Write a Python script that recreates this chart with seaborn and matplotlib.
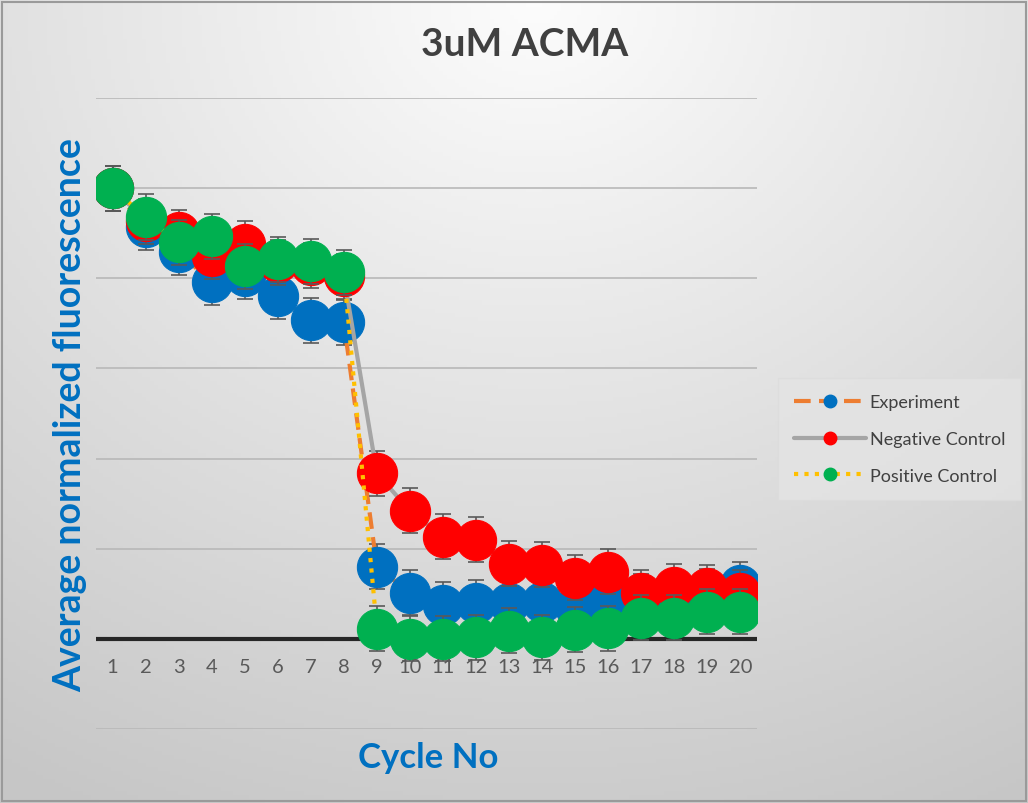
import numpy as np
import pandas as pd
import matplotlib.pyplot as plt
import seaborn as sns
from matplotlib.lines import Line2D
from matplotlib.patches import Rectangle

sns.set_style("white")
plt.rcParams['font.family'] = ['Lato', 'DejaVu Sans']

# --- data ---
cycles = list(range(1, 21))
experiment = [1.000, 0.913, 0.858, 0.791, 0.804, 0.760, 0.707, 0.702, 0.160, 0.102,
              0.076, 0.080, 0.080, 0.082, 0.071, 0.093, 0.095, 0.100, 0.105, 0.120]
negative = [1.000, 0.927, 0.902, 0.849, 0.876, 0.836, 0.829, 0.804, 0.367, 0.284,
            0.227, 0.220, 0.167, 0.164, 0.136, 0.149, 0.102, 0.116, 0.113, 0.102]
positive = [1.000, 0.936, 0.880, 0.893, 0.827, 0.842, 0.838, 0.813, 0.022, 0.000,
            0.000, 0.004, 0.018, 0.004, 0.020, 0.024, 0.047, 0.047, 0.060, 0.060]
err_exp = [0.050] * 20
err_neg = [0.050] * 20
err_pos = [0.050] * 20

series = [
    ("Experiment", experiment, err_exp, "#0070C0", "#ED7D31", (0, (4, 2)), 3.0),
    ("Negative Control", negative, err_neg, "#FF0000", "#A5A5A5", "-", 3.0),
    ("Positive Control", positive, err_pos, "#00B050", "#FFC000", (0, (1, 1.5)), 3.0),
]

W, H = 1028, 804
fig = plt.figure(figsize=(W / 100, H / 100), dpi=100)

# background gradient (Excel-like)
bg = fig.add_axes([0, 0, 1, 1], zorder=-10)
yy, xx = np.mgrid[0:1:200j, 0:1:260j]
dist = np.sqrt(((xx - 0.52) * 1.1) ** 2 + (yy - 0.0) ** 2)
shade = np.clip(0.99 - 0.19 * dist, 0.78, 1.0)
bg.imshow(np.dstack([shade] * 3), extent=[0, 1, 0, 1], origin="upper", aspect="auto")
bg.add_patch(Rectangle((0.002, 0.002), 0.996, 0.994, fill=False, edgecolor="#9a9a9a", lw=1.5))
bg.set_xlim(0, 1)
bg.set_ylim(0, 1)
bg.axis("off")

ax = fig.add_axes([96 / W, (H - 730) / H, (757 - 96) / W, (730 - 99) / H])
ax.patch.set_alpha(0)

for i, (name, vals, err, mcol, lcol, ls, lw) in enumerate(series):
    z = 3 + i
    ax.errorbar(cycles, vals, yerr=err, fmt="none", ecolor="#595959", elinewidth=1.2,
                capsize=6, capthick=1.2, zorder=z)
    sns.lineplot(x=cycles, y=vals, ax=ax, color=lcol, linestyle=ls, linewidth=lw,
                 marker="o", markersize=29, markerfacecolor=mcol, markeredgecolor=mcol,
                 zorder=z + 0.5)

ax.set_xlim(0.5, 20.5)
ax.set_ylim(-0.2, 1.2)
ax.set_yticks(np.arange(-0.2, 1.21, 0.2))
ax.set_yticklabels([])
ax.grid(axis="y", color="#b8b8b8", linewidth=1.2)
ax.grid(axis="x", visible=False)
ax.axhline(0, color="#262626", linewidth=3, zorder=2.5)
for s in ["top", "right", "left", "bottom"]:
    ax.spines[s].set_visible(False)

ax.set_xticks(cycles)
ax.set_xticklabels([])
ax.tick_params(axis="both", length=0)
for c in cycles:
    ax.text(c, -0.062, str(c), ha="center", va="center", fontsize=14.5, color="#595959",
            zorder=10)

ax.set_xlabel("")
ax.set_ylabel("")
fig.text(428 / W, 1 - 758 / H, "Cycle No", ha="center", va="center",
         fontsize=25, fontweight="bold", color="#0070C0")
fig.text(70 / W, 1 - 415 / H, "Average normalized fluorescence", ha="center", va="center",
         rotation=90, fontsize=27, fontweight="bold", color="#0070C0")
fig.text(525 / W, 1 - 45 / H, "3uM ACMA", ha="center", va="center",
         fontsize=28, fontweight="bold", color="#404040")

handles = [Line2D([0], [0], color=lcol, linestyle=ls, linewidth=lw, marker="o",
                  markersize=9, markerfacecolor=mcol, markeredgecolor=mcol)
           for (name, vals, err, mcol, lcol, ls, lw) in series]
labels = [s[0] for s in series]
leg = fig.legend(handles, labels, loc="center left", bbox_to_anchor=(783 / W, 1 - 440 / H),
                 frameon=True, fontsize=13, handlelength=4.0, labelspacing=1.15,
                 borderpad=0.6, handletextpad=0.2, borderaxespad=0)
leg.get_frame().set_facecolor("#e4e4e4")
leg.get_frame().set_edgecolor("#dcdcdc")
leg.get_frame().set_boxstyle("square")
for t in leg.get_texts():
    t.set_color("#404040")

fig.savefig("out.png", dpi=100)
